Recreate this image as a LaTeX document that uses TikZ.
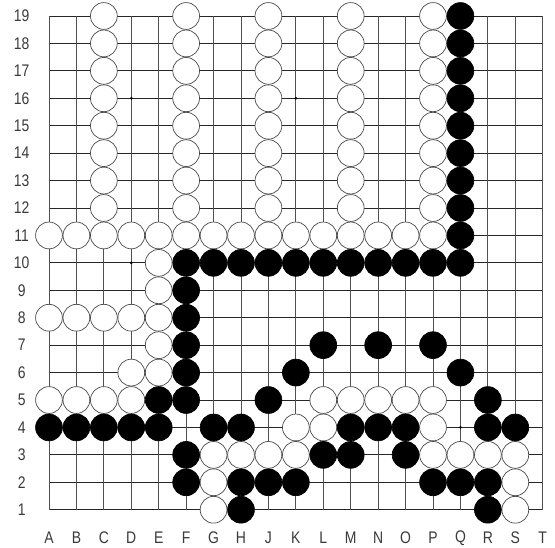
\documentclass[tikz,border=0pt]{standalone}
\usepackage{fontspec}
\setmainfont{Liberation Sans}
\definecolor{labc}{HTML}{3A3A3A}
\definecolor{gridc}{HTML}{505050}
\definecolor{rimc}{HTML}{4A4A4A}
\newcommand{\lab}[1]{\scalebox{0.83}[1]{#1}}
\begin{document}
\begin{tikzpicture}[x=27.43pt,y=27.43pt,
  wst/.style={circle,draw=rimc,line width=0.7pt,fill=white,minimum size=26.8pt,inner sep=0pt},
  bst/.style={circle,draw=black,line width=0.7pt,fill=black,minimum size=26.8pt,inner sep=0pt},
  lbl/.style={font=\fontsize{16.8}{17}\selectfont,text=labc,inner sep=0pt},
  hline/.style={draw=black!85,line width=0.9pt},
  vline/.style={draw=gridc,line width=0.9pt},
  star/.style={circle,fill=black,minimum size=3pt,inner sep=0pt}]
\useasboundingbox (-1.786,-1.385) rectangle (18.447,18.583);
\fill[white] (-1.786,-1.385) rectangle (18.447,18.583);
% grid
\foreach \r in {0,...,18} \draw[hline] (0,\r) -- (18,\r);
\foreach \c in {0,...,18} \draw[vline] (\c,0) -- (\c,18);
% star points
\foreach \c in {3,9,15} \foreach \r in {3,9,15} \node[star] (s\c-\r) at (\c,\r) {};
% labels
\foreach \L [count=\i from 0] in {A,B,C,D,E,F,G,H,J,K,L,M,N,O,P,Q,R,S,T}
  \node[lbl] (col\L) at (\i,-1.02) {\lab{\L}};
\foreach \r in {1,...,19} {
  \pgfmathtruncatemacro{\yy}{\r-1}
  \node[lbl] (row\r) at (-0.995,\yy) {\lab{\r}};
}
% white stones: columns C,F,J,M,P rows 12-19
\foreach \c in {2,5,8,11,14} \foreach \r in {11,...,18} \node[wst] (w\c-\r) at (\c,\r) {};
% black column Q rows 10-19
\foreach \r in {9,...,18} \node[bst] (b15-\r) at (15,\r) {};
% row 11 whites A..P (except those already placed)
\foreach \c in {0,...,14} \node[wst] (wr\c) at (\c,10) {};
% row 10 blacks F..P
\foreach \c in {5,...,14} \node[bst] (b\c-9) at (\c,9) {};
% other whites
\foreach \c/\r in {4/9,4/8,4/7,4/6,4/5,0/7,1/7,2/7,3/7,3/5,
  0/4,1/4,2/4,3/4,10/4,11/4,12/4,13/4,14/4,
  9/3,10/3,14/3,6/2,7/2,8/2,9/2,14/2,15/2,16/2,17/2,
  6/1,17/1,6/0,17/0}
  \node[wst] (w\c-\r) at (\c,\r) {};
% other blacks
\foreach \c/\r in {5/8,5/7,5/6,5/5,5/4,10/6,12/6,14/6,9/5,15/5,
  4/4,8/4,16/4,0/3,1/3,2/3,3/3,4/3,6/3,7/3,11/3,12/3,13/3,16/3,17/3,
  5/2,10/2,11/2,13/2,5/1,7/1,8/1,9/1,14/1,15/1,16/1,7/0,16/0}
  \node[bst] (b\c-\r) at (\c,\r) {};
\end{tikzpicture}
\end{document}
